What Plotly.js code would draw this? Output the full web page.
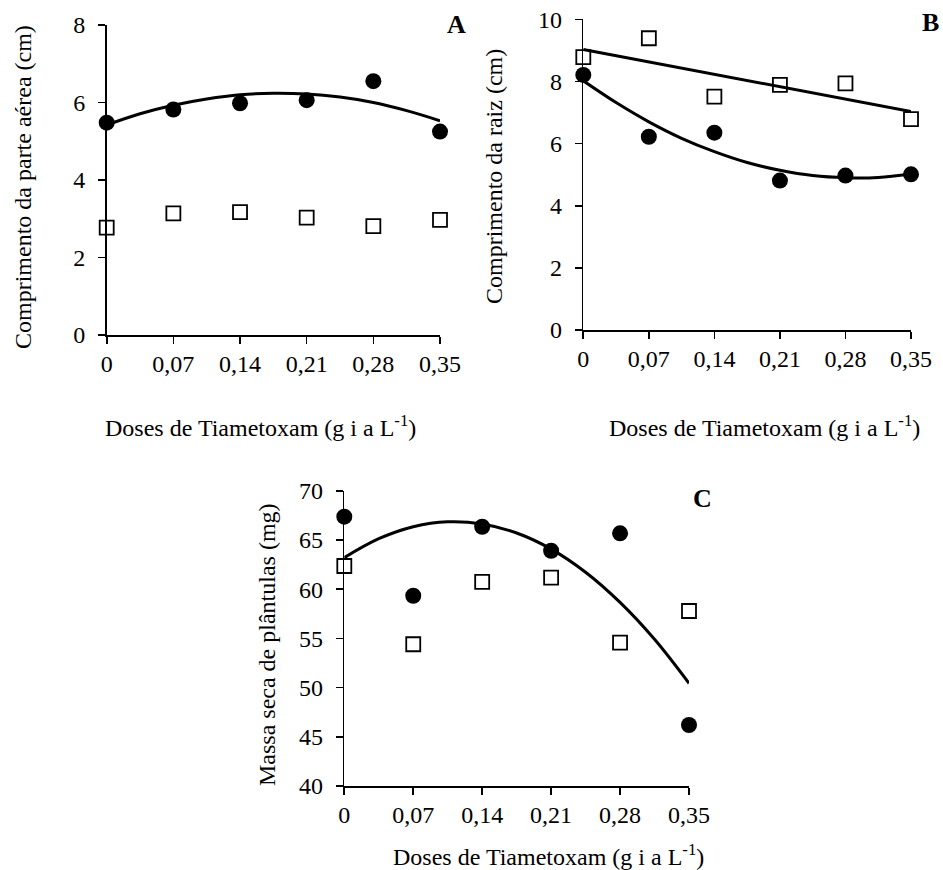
<!DOCTYPE html>
<html>
<head>
<meta charset="utf-8">
<script src="https://cdn.plot.ly/plotly-3.0.1.min.js"></script>
<style>
  html, body { margin: 0; padding: 0; background: #fff; }
  #chart { width: 943px; height: 870px; }
</style>
</head>
<body>
<div id="chart"></div>
<script>
// ---- Data ----
const doses = [0, 0.07, 0.14, 0.21, 0.28, 0.35];
const doseLabels = ['0', '0,07', '0,14', '0,21', '0,28', '0,35'];

// Panel A: Comprimento da parte aérea (cm)
const aFilled = [5.48, 5.82, 5.98, 6.06, 6.55, 5.25];
const aOpen   = [2.77, 3.14, 3.17, 3.03, 2.81, 2.97];

// Panel B: Comprimento da raiz (cm)
const bFilled = [8.21, 6.22, 6.35, 4.81, 4.97, 5.01];
const bOpen   = [8.78, 9.39, 7.51, 7.89, 7.94, 6.79];

// Panel C: Massa seca de plântulas (mg)
const cFilled = [67.36, 59.33, 66.34, 63.90, 65.67, 46.20];
const cOpen   = [62.35, 54.40, 60.73, 61.17, 54.56, 57.78];

// Trend curves at these doses
const fitDoses = [0, 0.035, 0.07, 0.105, 0.14, 0.175, 0.21, 0.245, 0.28, 0.315, 0.35];
const aFilledFit = [5.42, 5.71, 5.93, 6.09, 6.20, 6.24, 6.22, 6.14, 6.00, 5.79, 5.53];
const bFilledFit = [8.02, 7.32, 6.70, 6.17, 5.74, 5.39, 5.14, 4.97, 4.90, 4.91, 5.02];
const cFilledFit = [63.20, 65.12, 66.34, 66.84, 66.62, 65.70, 64.07, 61.72, 58.65, 54.90, 50.43];
const bOpenFitDoses = [0, 0.35];
const bOpenFit = [9.03, 7.03];

// ---- Styling ----
const FONT = '"Liberation Serif", "Times New Roman", Times, serif';
const W = 943, H = 870;
const px = v => v / W;
const py = v => 1 - v / H;

function fitTrace(x, y, xa, ya) {
  return { x: x, y: y, xaxis: xa, yaxis: ya, type: 'scatter', mode: 'lines',
    line: { color: '#000', width: 3, shape: 'spline' }, hoverinfo: 'skip', showlegend: false };
}
function filledTrace(y, xa, ya) {
  return { x: doses, y: y, xaxis: xa, yaxis: ya, type: 'scatter', mode: 'markers', cliponaxis: false,
    marker: { symbol: 'circle', size: 16, color: '#000', line: { width: 0 } }, showlegend: false };
}
function openTrace(y, xa, ya) {
  return { x: doses, y: y, xaxis: xa, yaxis: ya, type: 'scatter', mode: 'markers', cliponaxis: false,
    marker: { symbol: 'square', size: 14, color: '#fff', line: { width: 1.8, color: '#000' } }, showlegend: false };
}

const traces = [
  filledTrace(aFilled, 'x', 'y'),
  openTrace(aOpen, 'x', 'y'),
  fitTrace(fitDoses, aFilledFit, 'x', 'y'),
  filledTrace(bFilled, 'x2', 'y2'),
  openTrace(bOpen, 'x2', 'y2'),
  fitTrace(fitDoses, bFilledFit, 'x2', 'y2'),
  fitTrace(bOpenFitDoses, bOpenFit, 'x2', 'y2'),
  filledTrace(cFilled, 'x3', 'y3'),
  openTrace(cOpen, 'x3', 'y3'),
  fitTrace(fitDoses, cFilledFit, 'x3', 'y3')
];

const tickFont = { family: FONT, size: 24, color: '#000' };

function xAxis(domain, anchor) {
  return { domain: domain, anchor: anchor, range: [0, 0.35], tickvals: doses, ticktext: doseLabels,
    showline: true, linecolor: '#000', linewidth: 1.6, ticks: 'outside', ticklen: 7, tickwidth: 1.6,
    tickcolor: '#000', showgrid: false, zeroline: false, fixedrange: true, ticklabelstandoff: 0,
    tickfont: tickFont };
}
function yAxis(domain, anchor, range, dtick) {
  return { domain: domain, anchor: anchor, range: range, dtick: dtick, tick0: range[0],
    showline: true, linecolor: '#000', linewidth: 1.6, ticks: 'outside', ticklen: 7, tickwidth: 1.6,
    tickcolor: '#000', showgrid: false, zeroline: false, fixedrange: true, ticklabelstandoff: 8,
    tickfont: tickFont };
}

const titleFont = { family: FONT, size: 24, color: '#000' };
const xTitle = 'Doses de Tiametoxam (g i a L<sup>-1</sup>)';

function ann(text, x, y, angle, font) {
  return { text: text, xref: 'paper', yref: 'paper', x: px(x), y: py(y), xanchor: 'center', yanchor: 'middle',
    showarrow: false, textangle: angle || 0, font: font || titleFont };
}
const boldFont = { family: FONT, size: 26, color: '#000', weight: 'bold' };

const layout = {
  width: W, height: H,
  margin: { l: 0, r: 0, t: 0, b: 0 },
  paper_bgcolor: '#fff', plot_bgcolor: 'rgba(0,0,0,0)',
  showlegend: false,
  font: { family: FONT, color: '#000' },
  xaxis:  xAxis([px(106.7), px(440)], 'y'),
  yaxis:  yAxis([py(335), py(25)], 'x', [0, 8], 2),
  xaxis2: xAxis([px(583.3), px(911)], 'y2'),
  yaxis2: yAxis([py(330), py(19.3)], 'x2', [0, 10], 2),
  xaxis3: xAxis([px(344.3), px(689)], 'y3'),
  yaxis3: yAxis([py(786), py(490.7)], 'x3', [40, 70], 5),
  annotations: [
    ann('Comprimento da parte aérea (cm)', 23, 187, -90),
    ann('Comprimento da raiz (cm)', 494, 177, -90),
    ann('Massa seca de plântulas (mg)', 267, 645, -90),
    ann(xTitle, 260, 426),
    ann(xTitle, 764, 426),
    ann(xTitle, 548, 855),
    ann('<b>A</b>', 456, 24, 0, boldFont),
    ann('<b>B</b>', 930, 22, 0, boldFont),
    ann('<b>C</b>', 702, 498, 0, boldFont)
  ]
};

Plotly.newPlot('chart', traces, layout, { staticPlot: true, displayModeBar: false });
</script>
</body>
</html>
